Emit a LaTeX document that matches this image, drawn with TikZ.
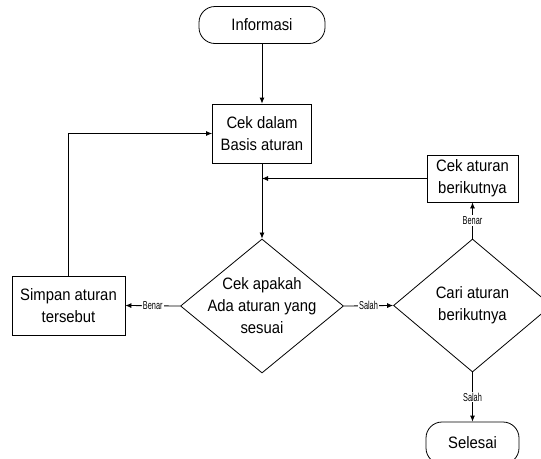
\documentclass[tikz,border=0pt]{standalone}
\usepackage{fontspec}
\setmainfont{Liberation Sans}
\newfontfamily\mainf[FakeStretch=0.9]{Liberation Sans}
\newfontfamily\labf[FakeStretch=0.64]{Liberation Sans}
\usetikzlibrary{shapes.geometric,arrows.meta}
\begin{document}
\begin{tikzpicture}[x=1pt,y=-1pt,
 base/.style={draw, line width=0.8pt, font=\mainf\fontsize{16.5}{22}\selectfont, align=center, inner sep=0pt},
 terminal/.style={base, rounded corners=16pt, minimum width=126pt, minimum height=37pt},
 process/.style={base, rectangle},
 decision/.style={base, diamond, inner sep=-12pt},
 conn/.style={draw, line width=0.8pt, -{Latex[length=6pt,width=5pt]}},
 lab/.style={font=\labf\fontsize{11.5}{13}\selectfont, fill=white, inner sep=1pt}
]
\useasboundingbox (0,0) rectangle (541,458);
\clip (0,0) rectangle (541,458);
\node[terminal] (info) at (262,25) {Informasi};
\node[process, minimum width=99pt, minimum height=59pt] (cek) at (262,133.5) {Cek dalam\\Basis aturan};
\node[decision, minimum width=163pt, minimum height=134pt] (d1) at (262,306) {Cek apakah\\Ada aturan yang\\sesuai};
\node[process, minimum width=113pt, minimum height=59pt] (simpan) at (68.5,305.5) {Simpan aturan\\tersebut};
\node[process, minimum width=91pt, minimum height=47pt] (next) at (472.5,178.5) {Cek aturan\\berikutnya};
\node[decision, minimum width=158pt, minimum height=133pt] (d2) at (472.5,305.5) {Cari aturan\\berikutnya};
\node[terminal, minimum width=93pt, minimum height=42pt] (end) at (472.5,443) {Selesai};
\coordinate (join) at (cek.south |- next.west);
\draw[conn] (info) -- (cek);
\draw[conn] (cek) -- (d1);
\draw[conn] (next.west) -- (join);
\draw[conn] (d1.west) -- node[lab]{Benar} (simpan.east);
\draw[conn] (simpan.north) |- (cek.west);
\draw[conn] (d1.east) -- node[lab]{Salah} (d2.west);
\draw[conn] (d2.north) -- node[lab]{Benar} (next.south);
\draw[conn] (d2.south) -- node[lab]{Salah} (end.north);
\end{tikzpicture}
\end{document}
